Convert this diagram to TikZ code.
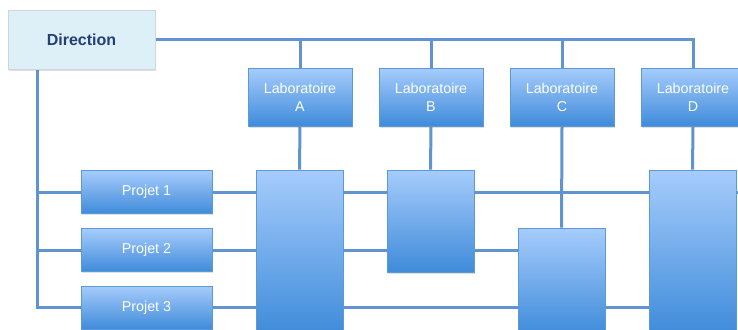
\documentclass[tikz,border=0pt]{standalone}
\usepackage{fontspec}
\setmainfont{Liberation Sans}
\usetikzlibrary{shadows,backgrounds,calc}
\definecolor{linec}{HTML}{5F94D0}
\definecolor{boxborder}{HTML}{5B9BD5}
\definecolor{gradtop}{HTML}{A6CCFC}
\definecolor{gradbot}{HTML}{3F8BDA}
\definecolor{dirfill}{HTML}{DEF0F7}
\definecolor{dirtext}{HTML}{243F78}
\begin{document}
\begin{tikzpicture}[x=1pt,y=-1pt,
  bluebox/.style={draw=boxborder, line width=0.8pt, top color=gradtop, bottom color=gradbot,
    text=white, font=\fontsize{14.3}{18}\selectfont, align=center, inner sep=0pt,
    drop shadow={opacity=0.25, shadow xshift=1pt, shadow yshift=-1.5pt}},
  labbox/.style={bluebox, minimum width=104pt, minimum height=58pt},
  projbox/.style={bluebox, minimum width=131pt, minimum height=43pt},
  bigbox/.style={bluebox, minimum width=87pt},
  dirbox/.style={fill=dirfill, draw=dirfill!80!gray, line width=0.4pt, minimum width=147pt, minimum height=59pt,
    font=\fontsize{16}{18}\selectfont\bfseries, text=dirtext, inner sep=0pt,
    drop shadow={opacity=0.25, shadow xshift=1pt, shadow yshift=-1.5pt}},
  conn/.style={draw=linec, line width=3pt}]
\useasboundingbox (0,0) rectangle (738,329);

\node[dirbox] (dir) at (81.5,39.5) {Direction};

\node[labbox] (labA) at (300,97) {Laboratoire\\A};
\node[labbox] (labB) at (431,97) {Laboratoire\\B};
\node[labbox] (labC) at (562,97) {Laboratoire\\C};
\node[labbox] (labD) at (693,97) {Laboratoire\\D};

\node[projbox] (p1) at (146.5,192) {Projet 1};
\node[projbox] (p2) at (146.5,250) {Projet 2};
\node[projbox] (p3) at (146.5,307.5) {Projet 3};

\node[bigbox, minimum height=165pt] (bigA) at (299.5,252.5) {};
\node[bigbox, minimum height=102pt] (bigB) at (430.5,221) {};
\node[bigbox, minimum height=107pt] (bigC) at (561.5,281.5) {};
\node[bigbox, minimum height=165pt] (bigD) at (692.5,252.5) {};

\coordinate (dv) at ($(dir.south west)+(30,0)$);
\coordinate (r1) at (745,192);

\begin{scope}[on background layer]
  \draw[conn] (dir.east) -- (dir.east -| labD.north) -- (labD.north);
  \draw[conn] (dir.east -| labA.north) -- (labA.north);
  \draw[conn] (dir.east -| labB.north) -- (labB.north);
  \draw[conn] (dir.east -| labC.north) -- (labC.north);
  \draw[conn] (labA.south) -- (bigA.north);
  \draw[conn] (labB.south) -- (bigB.north);
  \draw[conn] (labC.south) -- (bigC.north);
  \draw[conn] (labD.south) -- (bigD.north);
  \draw[conn] (dv) -- (dv |- p3.west) -- (p3.west);
  \draw[conn] (dv |- p1.west) -- (p1.west);
  \draw[conn] (dv |- p2.west) -- (p2.west);
  \draw[conn] (p1.east) -- (r1);
  \draw[conn] (p2.east) -- (bigC.west |- p2.east);
  \draw[conn] (p3.east) -- (bigD.west |- p3.east);
\end{scope}
\end{tikzpicture}
\end{document}
